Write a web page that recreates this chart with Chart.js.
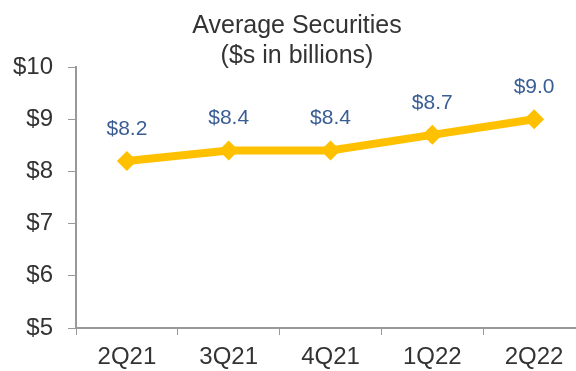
<!DOCTYPE html>
<html>
<head>
<meta charset="utf-8">
<script src="https://cdn.jsdelivr.net/npm/chart.js@4"></script>
<style>
  body { margin: 0; background: #fff; }
  #wrap { position: relative; width: 576px; height: 371px; overflow: hidden; }
  #title {
    position: absolute; left: 0; top: 9px; width: 594px; text-align: center;
    font-family: "Liberation Sans", Arial, sans-serif; font-size: 25px; line-height: 30px; color: #333;
  }
  canvas { position: absolute; left: 0; top: 0; }
</style>
</head>
<body>
<div id="wrap">
  <!-- canvas a bit wider than the frame: the plot runs past the right edge, like the original -->
  <canvas id="chart" width="585" height="371"></canvas>
  <div id="title">Average Securities<br>($s in billions)</div>
</div>
<script>
// quarters and average securities ($bn)
const quarters = ["2Q21", "3Q21", "4Q21", "1Q22", "2Q22"];
const securities = [8.2, 8.4, 8.4, 8.7, 9.0];
const yMin = 5;
const yMax = 10;

const FONT = "'Liberation Sans', Arial, sans-serif";

// draws the $x.x labels above each point
const valueLabels = {
  id: "valueLabels",
  afterDatasetsDraw(chart) {
    const ctx = chart.ctx;
    const meta = chart.getDatasetMeta(0);
    ctx.save();
    ctx.font = "21px " + FONT;
    ctx.fillStyle = "#3a5d94";
    ctx.textAlign = "center";
    ctx.textBaseline = "middle";
    meta.data.forEach((pt, i) => {
      ctx.fillText("$" + securities[i].toFixed(1), pt.x, pt.y - 32);
    });
    ctx.restore();
  }
};

const ctx = document.getElementById("chart").getContext("2d");
new Chart(ctx, {
  type: "line",
  data: {
    labels: quarters,
    datasets: [{
      data: securities,
      borderColor: "#FFC000",
      backgroundColor: "#FFC000",
      borderWidth: 8,
      pointStyle: "rectRot",
      pointRadius: 10,
      pointHoverRadius: 10,
      pointBorderWidth: 0,
      tension: 0
    }]
  },
  options: {
    responsive: false,
    animation: false,
    layout: { autoPadding: false, padding: { top: 67, right: 0, left: 0, bottom: 0 } },
    plugins: {
      legend: { display: false },
      tooltip: { enabled: false }
    },
    scales: {
      x: {
        offset: true,
        grid: {
          display: true,
          drawOnChartArea: false,
          drawTicks: true,
          tickLength: 7,
          color: "#999",
          offset: true
        },
        border: { color: "#999", width: 2 },
        ticks: { color: "#333", font: { family: FONT, size: 24 }, padding: 8 },
        afterFit(scale) { scale.height = 43; }
      },
      y: {
        min: yMin,
        max: yMax,
        ticks: {
          stepSize: 1,
          color: "#333",
          font: { family: FONT, size: 24 },
          padding: 15,
          callback: v => "$" + v
        },
        grid: {
          display: true,
          drawOnChartArea: false,
          drawTicks: true,
          tickLength: 8,
          color: "#999"
        },
        border: { color: "#999", width: 2 },
        afterFit(scale) { scale.width = 76; }
      }
    }
  },
  plugins: [valueLabels]
});
</script>
</body>
</html>
